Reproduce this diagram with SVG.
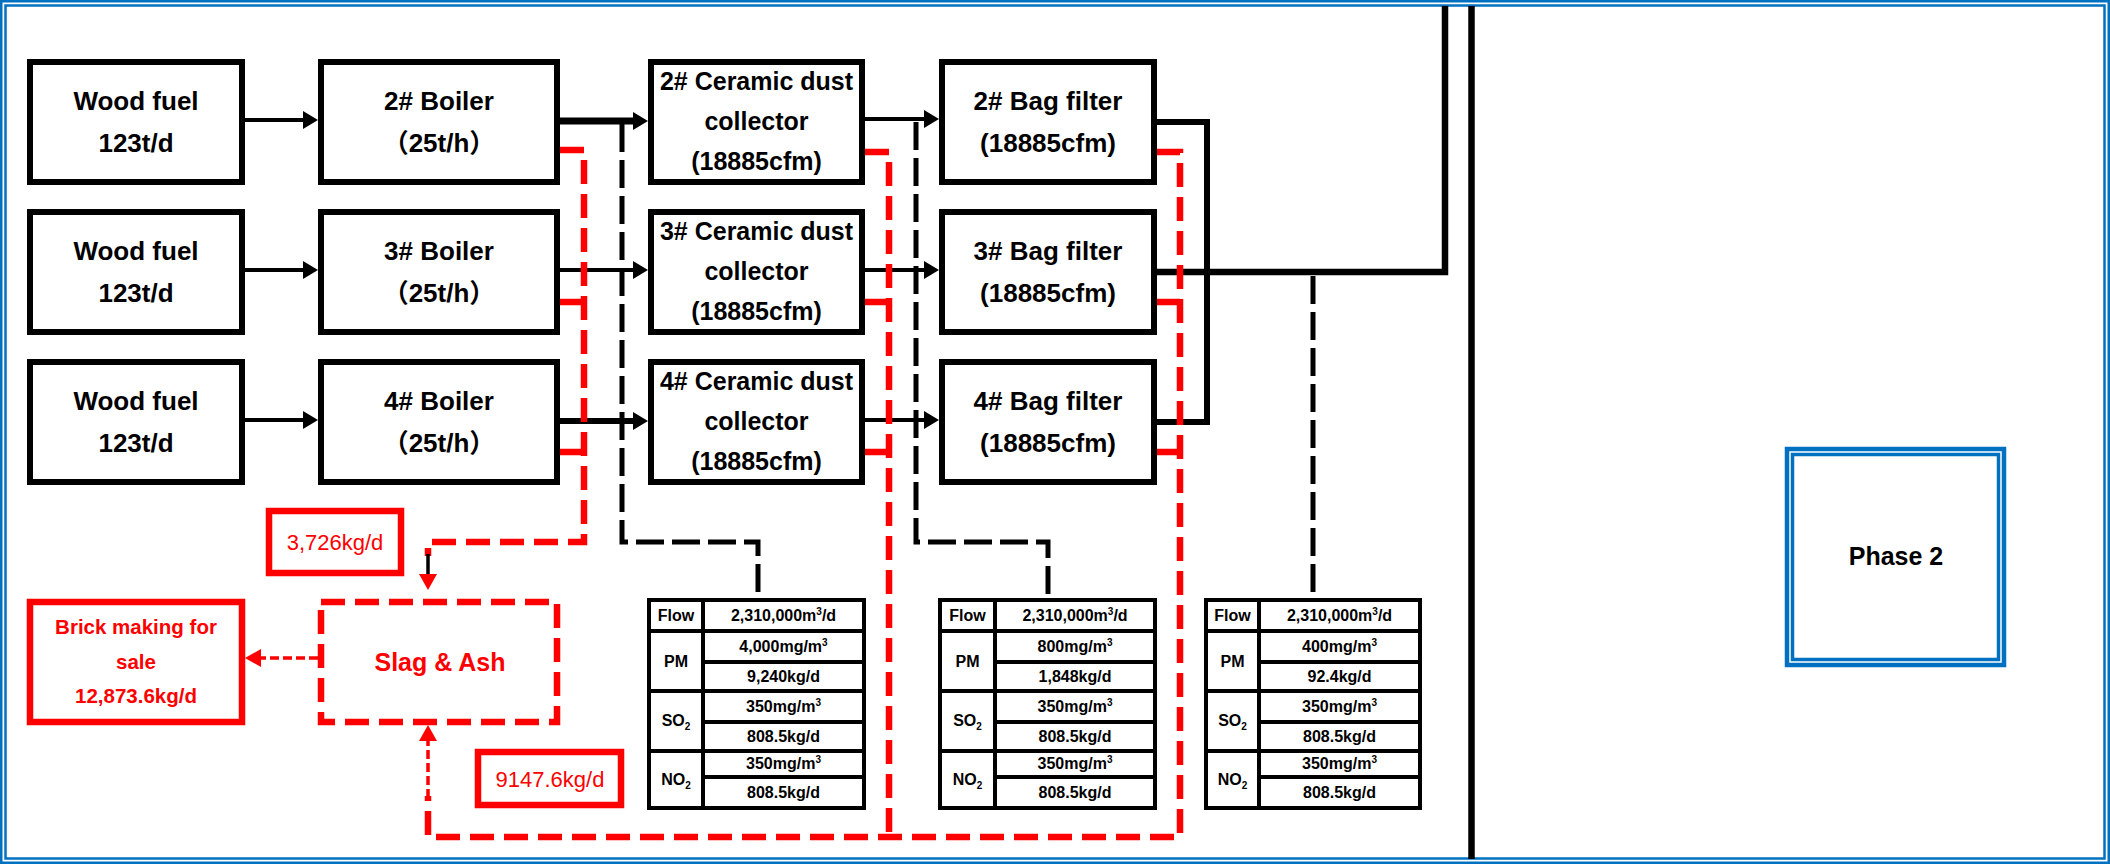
<svg xmlns="http://www.w3.org/2000/svg" width="2110" height="864" viewBox="0 0 2110 864">
<style>
.box{fill:#fff;stroke:#000;stroke-width:6}
.t{font-family:'Liberation Sans','Noto Sans CJK SC',sans-serif;font-weight:bold;font-size:26px;text-anchor:middle;fill:#000}
.tc{font-size:25px}
.tb{font-family:'Liberation Sans',sans-serif;font-weight:bold;font-size:16px;text-anchor:middle;fill:#000}
.tbl{fill:#fff;stroke:#000;stroke-width:4}
.gl{stroke:#000;stroke-width:4;fill:none}
.rt{font-family:'Liberation Sans',sans-serif;font-size:22px;text-anchor:middle;fill:#ff0000}
.rb{font-weight:bold}
.rbox{fill:#fff;stroke:#ff0000;stroke-width:6.5}
.rdash{fill:none;stroke:#ff0000;stroke-width:6.5;stroke-dasharray:24 10}
.rthin{fill:none;stroke:#ff0000;stroke-width:3.5;stroke-dasharray:9 4}
.kdash{fill:none;stroke:#000;stroke-width:5;stroke-dasharray:28 8}
.ln{fill:none;stroke:#000}
.blue{fill:none;stroke:#0070C0}
</style>
<defs>
<marker id="ak" markerUnits="userSpaceOnUse" markerWidth="16" markerHeight="18" refX="0" refY="9" orient="auto"><path d="M0,0 L15,9 L0,18 z" fill="#000"/></marker>
<marker id="ar" markerUnits="userSpaceOnUse" markerWidth="20" markerHeight="20" refX="0" refY="9" orient="auto"><path d="M0,0 L16,9 L0,18 z" fill="#ff0000"/></marker>
</defs>
<rect x="0" y="0" width="2110" height="864" fill="#fff"/>
<g id="frame">
<rect class="blue" x="1.25" y="1.25" width="2107.5" height="861.5" stroke-width="2.5"/>
<rect class="blue" x="5.5" y="5.5" width="2099" height="853" stroke-width="2.5"/>
</g>

<g id="connectors">
<line class="ln" x1="245" y1="120" x2="303" y2="120" stroke-width="4" marker-end="url(#ak)"/>
<line class="ln" x1="245" y1="270" x2="303" y2="270" stroke-width="4" marker-end="url(#ak)"/>
<line class="ln" x1="245" y1="420" x2="303" y2="420" stroke-width="4" marker-end="url(#ak)"/>
<line class="ln" x1="553" y1="121" x2="633" y2="121" stroke-width="7" marker-end="url(#ak)"/>
<line class="ln" x1="557" y1="270" x2="633" y2="270" stroke-width="4" marker-end="url(#ak)"/>
<line class="ln" x1="553" y1="421" x2="633" y2="421" stroke-width="6" marker-end="url(#ak)"/>
<line class="ln" x1="862" y1="119" x2="924" y2="119" stroke-width="4" marker-end="url(#ak)"/>
<line class="ln" x1="862" y1="270" x2="924" y2="270" stroke-width="4" marker-end="url(#ak)"/>
<line class="ln" x1="862" y1="420" x2="924" y2="420" stroke-width="4" marker-end="url(#ak)"/>
<path class="ln" d="M1157,122 H1207 V422 H1157" stroke-width="6"/>
<path class="ln" d="M1155,272 H1445 V6" stroke-width="6.5"/>
<line class="ln" x1="1471.5" y1="6" x2="1471.5" y2="859" stroke-width="6.5"/>
<path class="kdash" d="M622,124 V542 H758 V596"/>
<path class="kdash" d="M916,122 V542 H1048 V596"/>
<path class="kdash" d="M1313,276 V596"/>
<path class="rdash" d="M560,150 H584 V542 H428 V556"/>
<path class="rdash" d="M560,302 H584"/>
<path class="rdash" d="M560,452 H584"/>
<line class="ln" x1="428" y1="554" x2="428" y2="574" stroke="#ff0000" stroke-width="3.5" marker-end="url(#ar)"/>
<path class="rdash" d="M865,152 H889 V837"/>
<path class="rdash" d="M865,302 H889"/>
<path class="rdash" d="M865,452 H889"/>
<path class="rdash" d="M1157,152 H1180 V837 H428 V796"/>
<path class="rdash" d="M1157,302 H1180"/>
<path class="rdash" d="M1157,452 H1180"/>
<line class="rthin" x1="428" y1="798" x2="428" y2="741" marker-end="url(#ar)"/>
<line class="rthin" x1="318" y1="658" x2="261" y2="658" marker-end="url(#ar)"/>
</g>

<g id="wood1"><rect class="box" x="30" y="62" width="212" height="120"/><text class="t" x="136" y="110">Wood fuel</text><text class="t" x="136" y="152">123t/d</text></g>
<g id="wood2"><rect class="box" x="30" y="212" width="212" height="120"/><text class="t" x="136" y="260">Wood fuel</text><text class="t" x="136" y="302">123t/d</text></g>
<g id="wood3"><rect class="box" x="30" y="362" width="212" height="120"/><text class="t" x="136" y="410">Wood fuel</text><text class="t" x="136" y="452">123t/d</text></g>

<g id="boiler2"><rect class="box" x="321" y="62" width="236" height="120"/><text class="t" x="439" y="110">2# Boiler</text><text class="t" x="439" y="152">（25t/h）</text></g>
<g id="boiler3"><rect class="box" x="321" y="212" width="236" height="120"/><text class="t" x="439" y="260">3# Boiler</text><text class="t" x="439" y="302">（25t/h）</text></g>
<g id="boiler4"><rect class="box" x="321" y="362" width="236" height="120"/><text class="t" x="439" y="410">4# Boiler</text><text class="t" x="439" y="452">（25t/h）</text></g>

<g id="ceramic2"><rect class="box" x="651" y="62" width="211" height="120"/><text class="t tc" x="756.5" y="90">2# Ceramic dust</text><text class="t tc" x="756.5" y="130">collector</text><text class="t tc" x="756.5" y="170">(18885cfm)</text></g>
<g id="ceramic3"><rect class="box" x="651" y="212" width="211" height="120"/><text class="t tc" x="756.5" y="240">3# Ceramic dust</text><text class="t tc" x="756.5" y="280">collector</text><text class="t tc" x="756.5" y="320">(18885cfm)</text></g>
<g id="ceramic4"><rect class="box" x="651" y="362" width="211" height="120"/><text class="t tc" x="756.5" y="390">4# Ceramic dust</text><text class="t tc" x="756.5" y="430">collector</text><text class="t tc" x="756.5" y="470">(18885cfm)</text></g>

<g id="bag2"><rect class="box" x="942" y="62" width="212" height="120"/><text class="t" x="1048" y="110">2# Bag filter</text><text class="t" x="1048" y="152">(18885cfm)</text></g>
<g id="bag3"><rect class="box" x="942" y="212" width="212" height="120"/><text class="t" x="1048" y="260">3# Bag filter</text><text class="t" x="1048" y="302">(18885cfm)</text></g>
<g id="bag4"><rect class="box" x="942" y="362" width="212" height="120"/><text class="t" x="1048" y="410">4# Bag filter</text><text class="t" x="1048" y="452">(18885cfm)</text></g>

<g id="ash-upper-label"><rect class="rbox" x="269" y="511" width="132" height="62" stroke-width="6"/><text class="rt" x="335" y="550">3,726kg/d</text></g>
<g id="slag-ash"><rect class="rdash" x="321" y="602" width="236" height="120" style="fill:#fff"/><text class="rt rb" x="440" y="671" style="font-size:25px">Slag &amp; Ash</text></g>
<g id="brick"><rect class="rbox" x="30" y="602" width="212" height="120"/><text class="rt rb" x="136" y="634" style="font-size:20.5px">Brick making for</text><text class="rt rb" x="136" y="669" style="font-size:20.5px">sale</text><text class="rt rb" x="136" y="703" style="font-size:20.5px">12,873.6kg/d</text></g>
<g id="ash-lower-label"><rect class="rbox" x="478" y="752" width="143" height="53" stroke-width="6"/><text class="rt" x="550" y="787">9147.6kg/d</text></g>

<g id="table1">
<rect class="tbl" x="649" y="600" width="215" height="208"/>
<path class="gl" d="M703,600 V808 M649,631 H864 M649,691 H864 M649,751 H864 M703,662 H864 M703,722 H864 M703,777 H864"/>
<text class="tb" x="676" y="621">Flow</text>
<text class="tb" x="676" y="667">PM</text>
<text class="tb" x="676" y="726">SO<tspan font-size="10" dy="4">2</tspan></text>
<text class="tb" x="676" y="785">NO<tspan font-size="10" dy="4">2</tspan></text>
<text class="tb" x="783.5" y="621">2,310,000m<tspan font-size="10" dy="-6">3</tspan><tspan dy="6">/d</tspan></text>
<text class="tb" x="783.5" y="652">4,000mg/m<tspan font-size="10" dy="-6">3</tspan></text>
<text class="tb" x="783.5" y="682">9,240kg/d</text>
<text class="tb" x="783.5" y="712">350mg/m<tspan font-size="10" dy="-6">3</tspan></text>
<text class="tb" x="783.5" y="742">808.5kg/d</text>
<text class="tb" x="783.5" y="769">350mg/m<tspan font-size="10" dy="-6">3</tspan></text>
<text class="tb" x="783.5" y="798">808.5kg/d</text>
</g>

<g id="table2">
<rect class="tbl" x="940" y="600" width="215" height="208"/>
<path class="gl" d="M995,600 V808 M940,631 H1155 M940,691 H1155 M940,751 H1155 M995,662 H1155 M995,722 H1155 M995,777 H1155"/>
<text class="tb" x="967.5" y="621">Flow</text>
<text class="tb" x="967.5" y="667">PM</text>
<text class="tb" x="967.5" y="726">SO<tspan font-size="10" dy="4">2</tspan></text>
<text class="tb" x="967.5" y="785">NO<tspan font-size="10" dy="4">2</tspan></text>
<text class="tb" x="1075" y="621">2,310,000m<tspan font-size="10" dy="-6">3</tspan><tspan dy="6">/d</tspan></text>
<text class="tb" x="1075" y="652">800mg/m<tspan font-size="10" dy="-6">3</tspan></text>
<text class="tb" x="1075" y="682">1,848kg/d</text>
<text class="tb" x="1075" y="712">350mg/m<tspan font-size="10" dy="-6">3</tspan></text>
<text class="tb" x="1075" y="742">808.5kg/d</text>
<text class="tb" x="1075" y="769">350mg/m<tspan font-size="10" dy="-6">3</tspan></text>
<text class="tb" x="1075" y="798">808.5kg/d</text>
</g>

<g id="table3">
<rect class="tbl" x="1206" y="600" width="214" height="208"/>
<path class="gl" d="M1259,600 V808 M1206,631 H1420 M1206,691 H1420 M1206,751 H1420 M1259,662 H1420 M1259,722 H1420 M1259,777 H1420"/>
<text class="tb" x="1232.5" y="621">Flow</text>
<text class="tb" x="1232.5" y="667">PM</text>
<text class="tb" x="1232.5" y="726">SO<tspan font-size="10" dy="4">2</tspan></text>
<text class="tb" x="1232.5" y="785">NO<tspan font-size="10" dy="4">2</tspan></text>
<text class="tb" x="1339.5" y="621">2,310,000m<tspan font-size="10" dy="-6">3</tspan><tspan dy="6">/d</tspan></text>
<text class="tb" x="1339.5" y="652">400mg/m<tspan font-size="10" dy="-6">3</tspan></text>
<text class="tb" x="1339.5" y="682">92.4kg/d</text>
<text class="tb" x="1339.5" y="712">350mg/m<tspan font-size="10" dy="-6">3</tspan></text>
<text class="tb" x="1339.5" y="742">808.5kg/d</text>
<text class="tb" x="1339.5" y="769">350mg/m<tspan font-size="10" dy="-6">3</tspan></text>
<text class="tb" x="1339.5" y="798">808.5kg/d</text>
</g>

<g id="phase2">
<rect class="blue" x="1787" y="449" width="217" height="216" stroke-width="4.5"/>
<rect class="blue" x="1792.5" y="454.5" width="206" height="205" stroke-width="3.5"/>
<text class="t" x="1896" y="565" style="font-size:25px">Phase 2</text>
</g>
</svg>
